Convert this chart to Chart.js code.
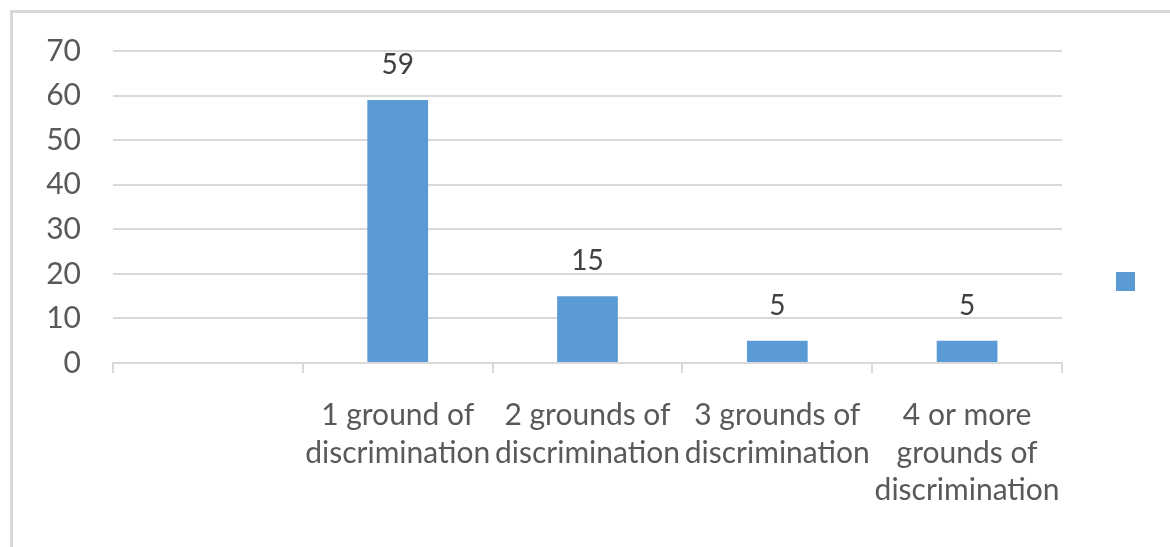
<!DOCTYPE html>
<html>
<head>
<meta charset="utf-8">
<script src="https://cdn.jsdelivr.net/npm/chart.js@4.4.1/dist/chart.umd.min.js"></script>
<style>
  html, body { margin: 0; padding: 0; background: #ffffff; width: 1170px; height: 547px; overflow: hidden; }
  #frame { position: absolute; left: 10px; top: 10px; width: 1200px; height: 600px;
           border-left: 3px solid #d9d9d9; border-top: 3px solid #d9d9d9; box-sizing: border-box; }
  #wrap { position: absolute; left: 0; top: 0; width: 1170px; height: 547px; }
</style>
</head>
<body>
<div id="frame"></div>
<div id="wrap"><canvas id="c" width="1170" height="547"></canvas></div>
<script>
const categories = [
  '',
  ['1 ground of', 'discrimination'],
  ['2 grounds of', 'discrimination'],
  ['3 grounds of', 'discrimination'],
  ['4 or more', 'grounds of', 'discrimination']
];
const values = [null, 59, 15, 5, 5];
const yMax = 70;
const yStep = 10;

const FONT = 'Lato, "Open Sans", sans-serif';

const valueLabels = {
  id: 'valueLabels',
  afterDatasetsDraw(chart) {
    const ctx = chart.ctx;
    const meta = chart.getDatasetMeta(0);
    ctx.save();
    ctx.font = '28px ' + FONT;
    ctx.fillStyle = '#404040';
    ctx.textAlign = 'center';
    ctx.textBaseline = 'alphabetic';
    meta.data.forEach((el, i) => {
      const v = values[i];
      if (v === null || v === undefined) return;
      ctx.fillText(String(v), el.x, el.y - 26);
    });
    ctx.restore();
  }
};

new Chart(document.getElementById('c'), {
  type: 'bar',
  data: {
    labels: categories,
    datasets: [{
      label: '',
      data: values,
      backgroundColor: '#5b9bd5',
      borderWidth: 0,
      categoryPercentage: 1,
      barPercentage: 0.32
    }]
  },
  options: {
    responsive: false,
    animation: false,
    events: [],
    layout: { padding: { top: 51, bottom: 35, left: 0, right: 0 } },
    plugins: {
      tooltip: { enabled: false },
      legend: {
        display: true,
        position: 'right',
        maxWidth: 108,
        labels: {
          boxWidth: 19,
          boxHeight: 19,
          padding: 54,
          font: { size: 50, family: FONT },
          color: '#595959'
        }
      }
    },
    scales: {
      x: {
        afterFit(scale) { scale.height = 149; },
        offset: true,
        grid: {
          offset: true,
          drawOnChartArea: false,
          drawTicks: true,
          tickLength: 10,
          color: '#d9d9d9',
          lineWidth: 2
        },
        border: { display: true, color: '#d9d9d9', width: 2 },
        ticks: {
          autoSkip: false,
          maxRotation: 0,
          minRotation: 0,
          padding: 24,
          color: '#595959',
          font: { size: 30, family: FONT, lineHeight: 1.25 }
        }
      },
      y: {
        afterFit(scale) { scale.width = 113; },
        min: 0,
        max: yMax,
        grid: { color: '#d9d9d9', lineWidth: 2, drawTicks: false },
        border: { display: false },
        ticks: {
          stepSize: yStep,
          padding: 32,
          color: '#595959',
          font: { size: 30, family: FONT }
        }
      }
    }
  },
  plugins: [valueLabels]
});
</script>
</body>
</html>
